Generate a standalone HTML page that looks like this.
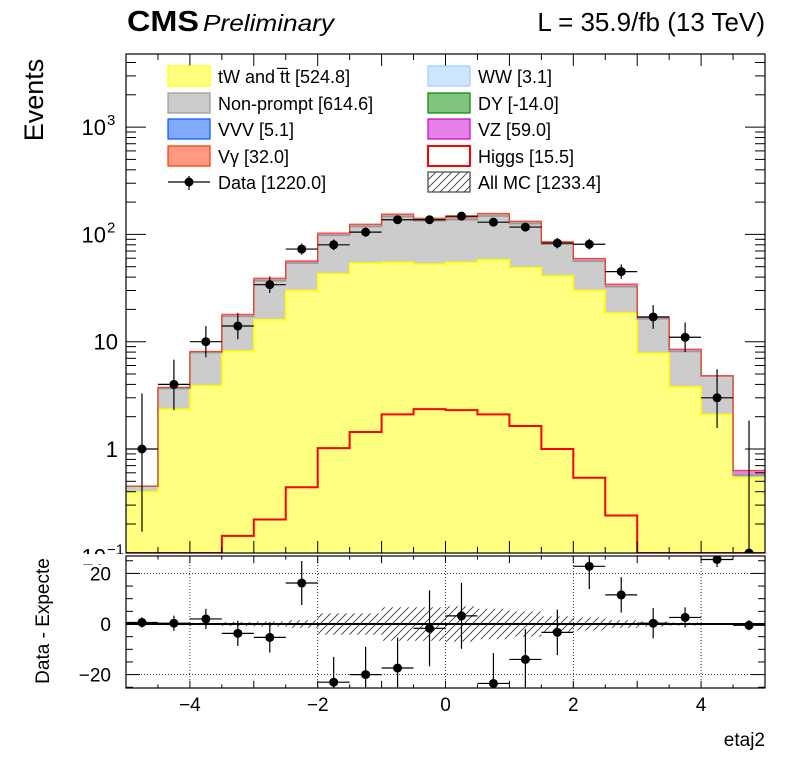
<!DOCTYPE html>
<html><head><meta charset="utf-8">
<style>
html,body{margin:0;padding:0;background:#fff;}
svg{display:block;font-family:"Liberation Sans",Arial,sans-serif;}
</style></head>
<body>
<svg id="chart" width="796" height="772" viewBox="0 0 796 772">
<defs>
<pattern id="pH" width="8" height="8" patternUnits="userSpaceOnUse"><path d="M-2,10 L10,-2" stroke="#333" stroke-width="0.8"/><path d="M-2,2 L2,-2 M6,10 L10,6" stroke="#333" stroke-width="0.8"/></pattern>
<clipPath id="cTop"><rect x="126" y="54" width="639" height="499"/></clipPath>
<clipPath id="cBot"><rect x="126" y="556" width="639" height="132"/></clipPath>
</defs>
<g id="topPanel"></g>
<g id="botPanel"></g>
<g id="legend"></g>
<text x="127" y="31" font-size="29" font-weight="bold" textLength="72" lengthAdjust="spacingAndGlyphs">CMS</text>
<text x="203" y="31" font-size="23" font-style="italic" textLength="131" lengthAdjust="spacingAndGlyphs">Preliminary</text>
<text x="765" y="31" font-size="26" text-anchor="end">L = 35.9/fb (13 TeV)</text>
<text transform="translate(43,100) rotate(-90)" font-size="27" text-anchor="middle">Events</text>
<text transform="translate(49,621) rotate(-90)" font-size="19" text-anchor="middle">Data - Expecte</text>
<text x="765" y="746" font-size="19" text-anchor="end">etaj2</text>
</svg>
<script>
const edges = [-5,-4.5,-4,-3.5,-3,-2.5,-2,-1.5,-1,-0.5,0,0.5,1,1.5,2,2.5,3,3.5,4,4.5,5];
const tW = [0.40,2.35,3.9,8.2,16,30,43,54,55,53,55,58,49,41,30,18.5,7.8,3.8,2.1,0.54];
const nonprompt = [0.05,1.3,4.0,9.0,21,24,55,64,91,81,82,90,77,40,26,14,8.5,4.3,2.7,0.03];
const ww = [0,0,0,0.1,0.1,0.2,0.2,0.2,0.2,0.2,0.2,0.2,0.2,0.2,0.2,0.1,0.1,0.1,0,0];
const vz = [0,0.1,0.2,0.4,1.0,1.5,2.5,3,4,4,4,4,3.5,2.5,1.5,1,0.5,0.3,0,0.06];
const dy = [0,0,0,0,0.3,0.2,0.5,0.8,1,0.8,1,1,0.8,0.5,0.3,0.2,0,0,0,0];
const vvv = [0,0,0,0,0.1,0.1,0.2,0.3,0.4,0.4,0.4,0.4,0.3,0.2,0.1,0.1,0.1,0,0,0];
const vgamma = [0,0,0,0.3,0.5,0.5,1.5,2,3,2,3,3,2,1,1.5,0.5,0,0,0,0];
const higgs = [0.01,0.03,0.06,0.155,0.22,0.44,1.02,1.44,2.1,2.35,2.3,2.1,1.64,1.0,0.54,0.24,0.08,0.04,0.02,0.01];
const data = [1,4,10,14,34,73,80,105,137,137,148,130,117,83,81,45,17,11,3,0];
const diff = [0.6,0.3,2,-3.7,-5.3,16.2,-23,-20,-17.4,-1.7,3.2,-23.5,-14,-3.3,22.8,11.5,0.3,2.6,25.5,-0.5];
const diffErr = [2,3,4,5,6,8.7,10,11,12,15,13,12,12,9,9,7,6,4,3,2];
const mcErr = [0.3,0.5,0.5,0.8,1,1.5,4.2,4.2,6.6,6.6,7,6,5,3,2.5,1.5,1,0.6,0.4,0.3];
const xTicks = [-4,-2,0,2,4];
const rTicks = [20,0,-20];
const logTicks = [{v:1000,t:"10",e:"3"},{v:100,t:"10",e:"2"},{v:10,t:"10",e:""},{v:1,t:"1",e:""},{v:0.1,t:"10",e:"−1"}];

const NS="http://www.w3.org/2000/svg";
const X0=126,X1=765,T0=54,T1=553,B0=556,B1=688;
function sx(v){return X0+(v+5)/10*(X1-X0);}
function sy(v){v=Math.max(v,0.06);return 449-107.3*Math.log10(v);}
function ry(v){return 624-2.53*v;}
function mk(par,tag,at){const e=document.createElementNS(NS,tag);for(const k in at)e.setAttribute(k,at[k]);par.appendChild(e);return e;}
const topG=document.getElementById('topPanel'),botG=document.getElementById('botPanel'),leg=document.getElementById('legend');
const gT=mk(topG,'g',{'clip-path':'url(#cTop)'});
const gB=mk(botG,'g',{'clip-path':'url(#cBot)'});

const layers=[[tW,'#ffff80','#ffff00','tw-stack'],[nonprompt,'#cccccc','#999','nonprompt-stack'],[ww,'#cce6ff','#99ccff','ww-stack'],[vz,'#e680e6','#cc00cc','vz-stack'],[dy,'#80c480','#008800','dy-stack'],[vvv,'#80aaff','#0055ff','vvv-stack'],[vgamma,'#ff9980','#ff3300','vgamma-stack']];
const cum=new Array(20).fill(0);
const stackTops=[];
layers.forEach(L=>{const lo=cum.slice();for(let i=0;i<20;i++)cum[i]+=L[0][i];stackTops.push([lo,cum.slice(),L]);});
for(let li=stackTops.length-1;li>=0;li--){
  const [lo,hi,L]=stackTops[li];
  for(let i=0;i<20;i++){
    if(L[0][i]<=0)continue;
    const y1=sy(hi[i]),y0=li==0?T1+2:sy(lo[i]);
    const r=mk(gT,'rect',{x:sx(edges[i]),y:y1,width:sx(edges[i+1])-sx(edges[i]),height:Math.max(y0-y1,0.5),fill:L[1],'shape-rendering':'crispEdges'});
    
    
  }
}
[0,1].forEach(li=>{const [lo,hi,L]=stackTops[li];let d='';for(let i=0;i<20;i++){const y=sy(hi[i]);d+=(i==0?'M':'L')+sx(edges[i])+','+y+'L'+sx(edges[i+1])+','+y;}
 const p=mk(gT,'path',{d:d,fill:'none',stroke:L[2],'stroke-width':1.5});
 
 });
{let d='';for(let i=0;i<20;i++){const y=sy(cum[i]);d+=(i==0?'M':'L')+sx(edges[i])+','+y+'L'+sx(edges[i+1])+','+y;}
 const p=mk(gT,'path',{d:d,fill:'none',stroke:'#ff2200','stroke-width':1.2,opacity:0.8});
 
 }
{let d='';for(let i=0;i<20;i++){const y=Math.min(sy(higgs[i]),T1);d+=(i==0?'M':'L')+sx(edges[i])+','+y+'L'+sx(edges[i+1])+','+y;}
 const p=mk(gT,'path',{d:d,fill:'none',stroke:'#ff0000','stroke-width':2});
 
 }
for(let i=0;i<20;i++){
  const n=data[i],cx=(sx(edges[i])+sx(edges[i+1]))/2;
  const g=mk(gT,'g',{});
  
  
  let up,dn;
  if(n==0){up=1.84;dn=0.06;}else if(n==1){up=3.3;dn=0.17;}else{up=n+Math.sqrt(n)+0.8;dn=Math.max(n-Math.sqrt(n)+0.3,0.06);}
  const y=sy(n);
  mk(g,'line',{x1:cx,x2:cx,y1:sy(up),y2:Math.min(sy(dn),T1+5),stroke:'#000','stroke-width':1.2});
  mk(g,'line',{x1:sx(edges[i]),x2:sx(edges[i+1]),y1:y,y2:y,stroke:'#000','stroke-width':1.2});
  mk(g,'circle',{cx:cx,cy:n==0?T1:y,r:4.5,fill:'#000'});
}
for(let i=0;i<20;i++){
  const r=mk(gB,'rect',{x:sx(edges[i]),y:ry(mcErr[i]),width:sx(edges[i+1])-sx(edges[i]),height:ry(-mcErr[i])-ry(mcErr[i]),fill:'url(#pH)'});
  
  
}
xTicks.forEach(v=>mk(botG,'line',{x1:sx(v),x2:sx(v),y1:B0,y2:B1,stroke:'#000','stroke-width':0.8,'stroke-dasharray':'1,2'}));
rTicks.forEach(v=>mk(botG,'line',{x1:X0,x2:X1,y1:ry(v),y2:ry(v),stroke:'#000','stroke-width':0.8,'stroke-dasharray':'1,2'}));
mk(gB,'line',{x1:X0,x2:X1,y1:ry(0),y2:ry(0),stroke:'#000','stroke-width':2});
for(let i=0;i<20;i++){
  const cx=(sx(edges[i])+sx(edges[i+1]))/2,y=ry(diff[i]);
  const g=mk(gB,'g',{});
  
  
  mk(g,'line',{x1:cx,x2:cx,y1:ry(diff[i]+diffErr[i]),y2:ry(diff[i]-diffErr[i]),stroke:'#000','stroke-width':1.2});
  mk(g,'line',{x1:sx(edges[i]),x2:sx(edges[i+1]),y1:y,y2:y,stroke:'#000','stroke-width':1.2});
  mk(g,'circle',{cx:cx,cy:y,r:4.5,fill:'#000'});
}
mk(topG,'rect',{x:X0,y:T0,width:X1-X0,height:T1-T0,fill:'none',stroke:'#000','stroke-width':1.2});
mk(botG,'rect',{x:X0,y:B0,width:X1-X0,height:B1-B0,fill:'none',stroke:'#000','stroke-width':1.2});
for(let v=-5;v<=5.001;v+=0.5){const major=Math.abs(v-Math.round(v))<1e-6;const L=major?12:6;
  [[T0,T0+L],[T1,T1-L],[B0,B0+L*0.6],[B1,B1-L*0.6]].forEach(s=>mk(topG,'line',{x1:sx(v),x2:sx(v),y1:s[0],y2:s[1],stroke:'#000','stroke-width':1}));}
xTicks.forEach(v=>{const t=mk(botG,'text',{x:sx(v),y:711,'font-size':19,'text-anchor':'middle'});t.textContent=v<0?'−'+(-v):String(v);
 
 });
for(let d=-1;d<=3;d++){for(let m=1;m<10;m++){const v=m*Math.pow(10,d);const y=sy(v);if(y<T0||y>T1)continue;const L=m==1?20:10;
  mk(topG,'line',{x1:X0,x2:X0+L,y1:y,y2:y,stroke:'#000','stroke-width':1});mk(topG,'line',{x1:X1,x2:X1-L,y1:y,y2:y,stroke:'#000','stroke-width':1});}}
logTicks.forEach(o=>{const y=sy(o.v)+8;const g=mk(topG,'text',{x:o.e?106:118,y:y,'font-size':22,'text-anchor':'end'});
 
 
 g.textContent=o.t;
 if(o.e){const s=mk(topG,'text',{x:107,y:y-10,'font-size':15});s.textContent=o.e;}});
for(let v=-25;v<=25;v+=5){const y=ry(v);if(y<B0||y>B1)continue;const L=v%20==0?14:7;
 mk(botG,'line',{x1:X0,x2:X0+L,y1:y,y2:y,stroke:'#000'});mk(botG,'line',{x1:X1,x2:X1-L,y1:y,y2:y,stroke:'#000'});}
rTicks.forEach(v=>{const t=mk(botG,'text',{x:111,y:ry(v)+7,'font-size':19,'text-anchor':'end'});t.textContent=v<0?'−'+(-v):String(v);
 
 });
mk(topG,'rect',{x:60,y:554,width:65,height:10,fill:'#fff'});
const legItems=[
 [168,76,'#ffff80','#ffff00','tW and t\u0305t [524.8]','legend-tw'],
 [168,103,'#cccccc','#999','Non-prompt [614.6]','legend-nonprompt'],
 [168,129,'#80aaff','#0055ff','VVV [5.1]','legend-vvv'],
 [168,156,'#ff9980','#ff3300','Vγ [32.0]','legend-vgamma'],
 [168,182,null,'#000','Data [1220.0]','legend-data'],
 [428,76,'#cce6ff','#99ccff','WW [3.1]','legend-ww'],
 [428,103,'#80c480','#008800','DY [-14.0]','legend-dy'],
 [428,129,'#e680e6','#cc00cc','VZ [59.0]','legend-vz'],
 [428,156,'#fff','#ff0000','Higgs [15.5]','legend-higgs'],
 [428,182,'url(#pH)','#444','All MC [1233.4]','legend-allmc']];
legItems.forEach(it=>{const g=mk(leg,'g',{});
 
 
 if(it[2]){mk(g,'rect',{x:it[0],y:it[1]-10,width:42,height:20,fill:it[2],stroke:it[3],'stroke-width':it[5]=='legend-higgs'?2:1.2});}
 else{mk(g,'line',{x1:it[0],x2:it[0]+42,y1:it[1],y2:it[1],stroke:'#000','stroke-width':1.2});mk(g,'line',{x1:it[0]+21,x2:it[0]+21,y1:it[1]-6,y2:it[1]+8,stroke:'#000','stroke-width':1.2});mk(g,'circle',{cx:it[0]+21,cy:it[1],r:4.5,fill:'#000'});}
 const t=mk(g,'text',{x:it[0]+50,y:it[1]+7,'font-size':18});t.textContent=it[4];});
</script>
</body></html>
